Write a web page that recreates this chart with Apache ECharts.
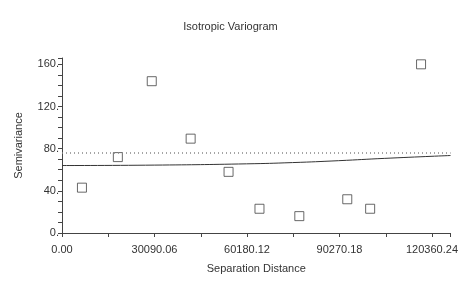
<!DOCTYPE html>
<html>
<head>
<meta charset="utf-8">
<script src="https://cdn.jsdelivr.net/npm/echarts@6/dist/echarts.min.js"></script>
<style>
  html, body { margin: 0; padding: 0; background: #fff; }
  #chart { width: 461px; height: 282px; }
</style>
</head>
<body>
<div id="chart"></div>
<script>
// 实验变差函数点
const lagDist = [6490, 18170, 29200, 41850, 54180, 64240, 77200, 92800, 100240, 116800]
const semiVar = [43, 72, 144, 89.5, 58, 23, 16, 32, 23, 160]
// 拟合模型曲线
const modelDist = [0, 30000, 60000, 75000, 90000, 105000, 126400]
const modelVal = [64, 64.4, 65.6, 66.8, 68.6, 70.8, 73.5]
// 样本方差
const sampleVar = 76
const xStep = 30090.06

const chart = echarts.init(document.getElementById('chart'))
const font = 'Liberation Sans, Arial, sans-serif'

chart.setOption({
  animation: false,
  title: {
    text: 'Isotropic Variogram',
    left: 'center',
    top: 16,
    textStyle: { fontFamily: font, fontSize: 11, fontWeight: 'normal', color: '#333' }
  },
  grid: { left: 62, right: 9, top: 58, bottom: 49 },
  xAxis: {
    type: 'value',
    min: 0,
    max: 126400,
    interval: xStep,
    name: 'Separation Distance',
    nameLocation: 'middle',
    nameGap: 30,
    nameTextStyle: { fontFamily: font, fontSize: 11, color: '#333' },
    axisLine: { lineStyle: { color: '#444' } },
    axisTick: { length: 4, lineStyle: { color: '#444' } },
    minorTick: { show: true, splitNumber: 2, length: 4, lineStyle: { color: '#444' } },
    splitLine: { show: false },
    axisLabel: {
      fontFamily: font, fontSize: 11, color: '#333', margin: 11,
      showMaxLabel: false,
      formatter: v => v.toFixed(2)
    }
  },
  yAxis: {
    type: 'value',
    min: 0,
    max: 166,
    interval: 40,
    name: 'Semivariance',
    nameLocation: 'middle',
    nameGap: 38,
    nameTextStyle: { fontFamily: font, fontSize: 11, color: '#333' },
    axisLine: { show: true, lineStyle: { color: '#444' } },
    axisTick: { show: true, length: 4, lineStyle: { color: '#444' } },
    minorTick: { show: true, splitNumber: 4, length: 4, lineStyle: { color: '#444' } },
    splitLine: { show: false },
    axisLabel: {
      fontFamily: font, fontSize: 11, color: '#333', margin: 3,
      showMaxLabel: false,
      formatter: v => v + '.'
    }
  },
  series: [
    {
      type: 'line',
      data: modelDist.map((d, i) => [d, modelVal[i]]),
      smooth: true,
      symbol: 'none',
      lineStyle: { color: '#333', width: 1 },
      markLine: {
        silent: true,
        symbol: 'none',
        label: { show: false },
        lineStyle: { color: '#888', type: [1, 3], width: 1.5 },
        data: [{ yAxis: sampleVar }]
      }
    },
    {
      type: 'scatter',
      data: lagDist.map((d, i) => [d, semiVar[i]]),
      symbol: 'rect',
      symbolSize: 9,
      itemStyle: { color: '#fff', borderColor: '#444', borderWidth: 1 }
    }
  ]
})
</script>
</body>
</html>
